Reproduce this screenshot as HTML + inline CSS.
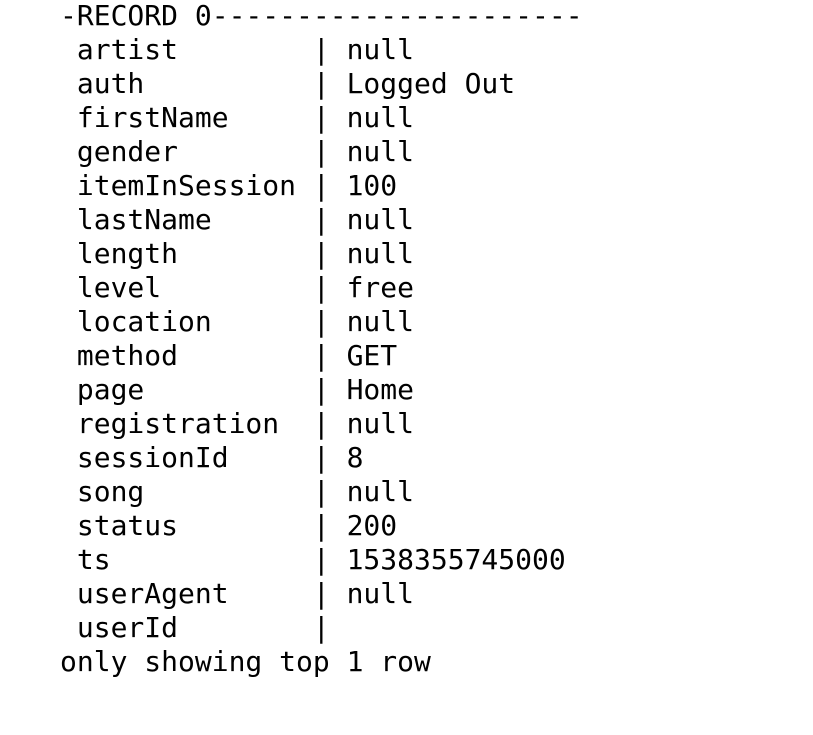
<!DOCTYPE html>
<html><head><meta charset="utf-8"><style>
html,body{margin:0;padding:0;background:#fff;width:813px;height:735px;overflow:hidden}
pre{position:absolute;left:60px;top:-1px;margin:0;font-family:"DejaVu Sans Mono","Liberation Mono",monospace;font-size:28px;line-height:34px;color:#000}
</style></head><body><pre>-RECORD 0----------------------
 artist        | null
 auth          | Logged Out
 firstName     | null
 gender        | null
 itemInSession | 100
 lastName      | null
 length        | null
 level         | free
 location      | null
 method        | GET
 page          | Home
 registration  | null
 sessionId     | 8
 song          | null
 status        | 200
 ts            | 1538355745000
 userAgent     | null
 userId        | 
only showing top 1 row</pre></body></html>
